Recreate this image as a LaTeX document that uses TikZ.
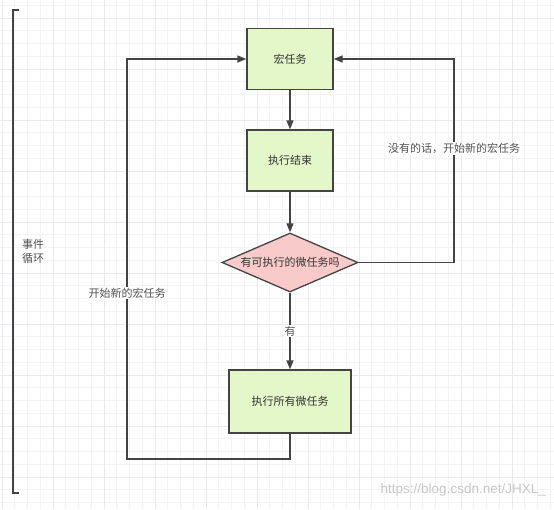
\documentclass[tikz,border=0pt]{standalone}
\usepackage{fontspec}
\setmainfont{Liberation Sans}
\newfontfamily\cjk{Noto Sans CJK SC}
\usetikzlibrary{arrows.meta,shapes.geometric}
\definecolor{boxgreen}{HTML}{E4F7C9}
\definecolor{diapink}{HTML}{F8CACA}
\definecolor{edge}{HTML}{444444}
\definecolor{txt}{HTML}{333333}
\definecolor{gridmin}{HTML}{F4F4F6}
\definecolor{gridmaj}{HTML}{EAEAEE}
\tikzset{
  taskbox/.style={draw=edge,line width=1.3pt,fill=boxgreen,rectangle,inner sep=0pt,font=\cjk\fontsize{11}{13}\selectfont,text=txt},
  decision/.style={draw=edge,line width=1.3pt,fill=diapink,diamond,inner sep=0pt,font=\cjk\fontsize{11}{13}\selectfont,text=txt},
  flow/.style={draw=edge,line width=1.3pt,-{Triangle[length=9pt,width=7pt]}},
  elabel/.style={fill=white,inner sep=1pt,font=\cjk\fontsize{11}{13}\selectfont,text=txt!85},
  plaintext/.style={inner sep=0pt,font=\cjk\fontsize{11}{14}\selectfont,text=txt!85,align=left}
}
\begin{document}
\begin{tikzpicture}[x=1pt,y=-1pt]
\useasboundingbox (0,0) rectangle (554,509);
\fill[white] (0,0) rectangle (554,509);
% grid
\foreach \i in {0,...,43} {
  \draw[gridmin,line width=0.6pt] ({2+12.75*\i},0) -- ({2+12.75*\i},509);
}
\foreach \i in {0,...,40} {
  \draw[gridmin,line width=0.6pt] (0,{5.25+12.75*\i}) -- (554,{5.25+12.75*\i});
}
\foreach \i in {0,...,10} {
  \draw[gridmaj,line width=0.7pt] ({2+51*\i},0) -- ({2+51*\i},509);
}
\foreach \i in {0,...,9} {
  \draw[gridmaj,line width=0.7pt] (0,{18+51*\i}) -- (554,{18+51*\i});
}
% bracket
\coordinate (bt) at (19,10);
\coordinate (bb) at (19,493);
\draw[edge,line width=1.3pt] (bt) -- (13,10) -- (13,493) -- (bb);
\node[plaintext,anchor=north west] (loop) at (22,239) {事件\\循环};
% nodes
\node[taskbox,minimum width=86pt,minimum height=61pt] (macro) at (290,59) {宏任务};
\node[taskbox,minimum width=86pt,minimum height=61pt] (done) at (290,160.5) {执行结束};
\node[decision,minimum width=136pt,minimum height=59pt,aspect=2.3] (dec) at (290,262.5) {有可执行的微任务吗};
\node[taskbox,minimum width=122pt,minimum height=63pt] (micro) at (290,401.5) {执行所有微任务};
% edges
\draw[flow] (macro) -- (done);
\draw[flow] (done) -- (dec.north);
\draw[flow] (dec.south) -- node[elabel,pos=0.5] {有} (micro);
\draw[flow] (micro.south) -- (290,459) -- (127,459) -- node[elabel,pos=0.415] {开始新的宏任务} (127,59) -- (macro.west);
\draw[flow] (dec.east) -- (454,262.5) -- node[elabel,pos=0.56] {没有的话，开始新的宏任务} (454,59) -- (macro.east);
% watermark
\node[anchor=east,inner sep=0pt,text=black!22,font=\fontsize{13.5}{15}\selectfont] (wm) at (546,490) {https://blog.csdn.net/JHXL\_};
\end{tikzpicture}
\end{document}
